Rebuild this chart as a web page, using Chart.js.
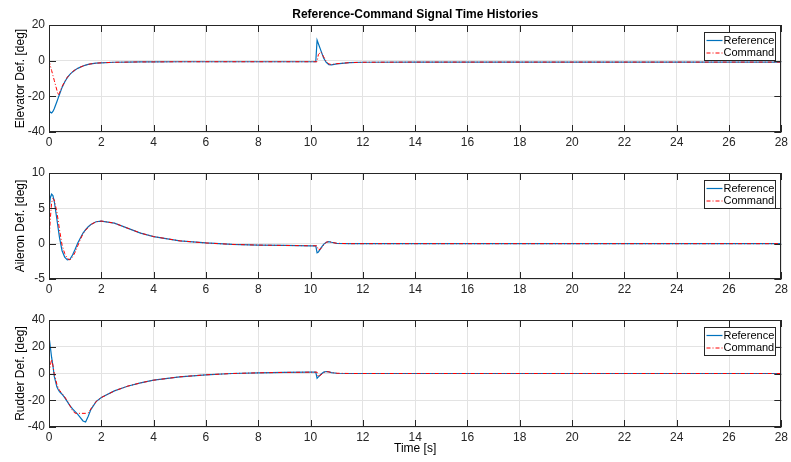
<!DOCTYPE html>
<html>
<head>
<meta charset="utf-8">
<script src="https://cdn.jsdelivr.net/npm/chart.js@4"></script>
<style>
  html, body { margin: 0; padding: 0; background: #fff; }
  .panel { position: absolute; left: 0; width: 791px; }
</style>
</head>
<body>
<div class="panel" style="top:0;height:150px"><canvas id="elevChart"></canvas></div>
<div class="panel" style="top:150px;height:147px"><canvas id="aileronChart"></canvas></div>
<div class="panel" style="top:297px;height:165px"><canvas id="rudderChart"></canvas></div>
<script>
// Tiempo [s] compartido por todas las series
const time = [0, 0.05, 0.1, 0.15, 0.2, 0.3, 0.35, 0.4, 0.5, 0.6, 0.7, 0.8, 0.9, 1.0, 1.1,
  1.2, 1.3, 1.4, 1.5, 1.6, 1.8, 2.0, 2.5, 3, 3.5, 4, 5, 6, 7, 8, 9, 10, 10.2, 10.25, 10.3,
  10.4, 10.5, 10.6, 10.7, 10.8, 11, 11.5, 12, 14, 16, 20, 24, 28];

// Elevador [deg]
const elevRef = [-27.5, -29, -29.3, -28.5, -27, -23, -21, -19, -15, -12, -9.5, -7.7, -6.3, -5.2, -4.3,
  -3.6, -3.0, -2.5, -2.1, -1.8, -1.4, -1.2, -0.9, -0.8, -0.7, -0.7, -0.6, -0.6, -0.6, -0.6, -0.6, -0.6, -0.6, 11.5, 9.5,
  5.5, 1.5, -1.0, -2.2, -2.4, -1.8, -1.1, -0.9, -0.8, -0.8, -0.8, -0.8, -0.8];
const elevCmd = [0, -2.8, -5.5, -8.3, -11, -16.5, -19.3, -18, -14.5, -11.7, -9.3, -7.6, -6.2, -5.1, -4.3,
  -3.6, -3.0, -2.5, -2.1, -1.8, -1.4, -1.2, -0.9, -0.8, -0.7, -0.7, -0.6, -0.6, -0.6, -0.6, -0.6, -0.6, -0.6, -0.6, 3.5,
  4.8, 2.2, -0.4, -1.8, -2.2, -1.7, -1.1, -0.9, -0.8, -0.8, -0.8, -0.8, -0.8];

// Alerón [deg]
const aileronRef = [4.5, 6.5, 7.0, 6.8, 6.0, 3.5, 2.2, 0.9, -1.0, -1.9, -2.3, -2.2, -1.6, -0.8, 0.1,
  0.8, 1.5, 2.0, 2.4, 2.7, 3.1, 3.2, 2.9, 2.2, 1.5, 1.0, 0.4, 0.1, -0.1, -0.2, -0.25, -0.3, -0.3, -1.3, -1.2,
  -0.6, -0.1, 0.2, 0.3, 0.2, 0.05, 0, 0, 0, 0, 0, 0, 0];
const aileronCmd = [0, 3.5, 5.8, 6.4, 6.2, 4.5, 3.3, 2.0, -0.2, -1.4, -2.1, -2.3, -1.9, -1.2, -0.3,
  0.6, 1.4, 1.9, 2.3, 2.7, 3.1, 3.2, 2.9, 2.2, 1.5, 1.0, 0.4, 0.1, -0.1, -0.2, -0.25, -0.3, -0.3, -0.3, -0.9,
  -0.7, -0.2, 0.2, 0.3, 0.2, 0.05, 0, 0, 0, 0, 0, 0, 0];

// Timón [deg]
const rudderRef = [28, 20, 12, 6, -2, -10, -12, -13.5, -15.5, -18, -21, -24, -26.5, -28.5, -30.5,
  -33, -35.5, -36.3, -32, -27, -21, -18, -13, -9.5, -7, -5, -2.5, -1, 0, 0.5, 0.8, 1, 1, -3.5, -2.5,
  -0.5, 1.0, 1.5, 1.2, 0.7, 0.2, 0, 0, 0, 0, 0, 0, 0];
const rudderCmd = [0, 6, 10.5, 6, 0, -8, -10.5, -12.5, -15, -17.5, -20.5, -24, -28, -29.7, -29.8,
  -29.8, -29.8, -29.8, -29.5, -26.5, -21, -18, -13, -9.5, -7, -5, -2.5, -1, 0, 0.5, 0.8, 1, 1, 1, -2.5,
  -1.0, 0.8, 1.4, 1.2, 0.7, 0.2, 0, 0, 0, 0, 0, 0, 0];

const seriesLabels = ["Reference", "Command"];
const FONT = "'Liberation Sans', Arial, Helvetica, sans-serif";

// Caja, marcas interiores y leyenda estilo MATLAB
const frameAndLegend = {
  id: "frameAndLegend",
  afterDatasetsDraw(chart) {
    const { ctx, chartArea: a, scales } = chart;
    const L = 7;
    ctx.save();
    ctx.strokeStyle = "#262626";
    ctx.lineWidth = 1;
    ctx.setLineDash([]);
    ctx.beginPath();
    scales.x.ticks.forEach(t => {
      const px = Math.round(scales.x.getPixelForValue(t.value)) + 0.5;
      ctx.moveTo(px, a.bottom); ctx.lineTo(px, a.bottom - L);
      ctx.moveTo(px, a.top); ctx.lineTo(px, a.top + L);
    });
    scales.y.ticks.forEach(t => {
      const py = Math.round(scales.y.getPixelForValue(t.value)) + 0.5;
      ctx.moveTo(a.left, py); ctx.lineTo(a.left + L, py);
      ctx.moveTo(a.right, py); ctx.lineTo(a.right - L, py);
    });
    ctx.stroke();
    ctx.strokeRect(Math.round(a.left) + 0.5, Math.round(a.top) + 0.5,
      Math.round(a.width) - 1, Math.round(a.height) - 1);

    // leyenda
    const w = 71, h = 28;
    const x0 = Math.round(a.right - 6 - w) + 0.5;
    const y0 = Math.round(a.top + 7) + 0.5;
    ctx.fillStyle = "#fff";
    ctx.fillRect(x0, y0, w, h);
    ctx.strokeStyle = "#262626";
    ctx.strokeRect(x0, y0, w, h);
    ctx.font = "11px " + FONT;
    ctx.textBaseline = "middle";
    chart.data.datasets.forEach((ds, i) => {
      const cy = y0 + 8 + i * 12.5;
      ctx.strokeStyle = ds.borderColor;
      ctx.lineWidth = ds.borderWidth;
      ctx.setLineDash(ds.borderDash || []);
      ctx.beginPath();
      ctx.moveTo(x0 + 2, cy); ctx.lineTo(x0 + 18, cy);
      ctx.stroke();
      ctx.fillStyle = "#000";
      ctx.fillText(ds.label, x0 + 19, cy);
    });
    ctx.restore();
  }
};

function toPoints(ys) {
  return time.map((t, i) => ({ x: t, y: ys[i] }));
}

function makeChart(id, yLabel, refData, cmdData, yMin, yMax, yStep, opts) {
  const ctx = document.getElementById(id);
  return new Chart(ctx, {
    type: "line",
    data: {
      datasets: [
        { label: seriesLabels[0], data: toPoints(refData), borderColor: "#0072BD", borderWidth: 1.2,
          pointRadius: 0, tension: 0, fill: false, order: 2 },
        { label: seriesLabels[1], data: toPoints(cmdData), borderColor: "#FF0000", borderWidth: 1,
          borderDash: [4, 2, 1, 2], pointRadius: 0, tension: 0, fill: false, order: 1 }
      ]
    },
    options: {
      responsive: true,
      maintainAspectRatio: false,
      animation: false,
      layout: { padding: { top: opts.padTop, left: 0, right: 8, bottom: 0 } },
      plugins: {
        legend: { display: false },
        tooltip: { enabled: false },
        title: {
          display: !!opts.title,
          text: opts.title || "",
          fullSize: false,
          color: "#000",
          font: { family: FONT, size: 12, weight: "bold" },
          padding: { top: 7.6, bottom: 3 }
        }
      },
      scales: {
        x: {
          type: "linear",
          min: 0, max: 28,
          ticks: { stepSize: 2, color: "#262626", font: { family: FONT, size: 12 }, padding: 3, maxRotation: 0 },
          grid: { color: "#e3e3e3", drawTicks: false },
          border: { display: false },
          title: {
            display: !!opts.xTitle,
            text: opts.xTitle || "",
            color: "#000",
            font: { family: FONT, size: 12 },
            padding: { top: 0, bottom: 6 }
          },
          afterFit: s => { s.height = opts.xHeight; }
        },
        y: {
          min: yMin, max: yMax,
          ticks: { stepSize: yStep, color: "#262626", font: { family: FONT, size: 12 }, padding: 4 },
          grid: { color: "#e3e3e3", drawTicks: false },
          border: { display: false },
          title: {
            display: true,
            text: yLabel,
            color: "#000",
            font: { family: FONT, size: 12 },
            padding: { top: 13, bottom: 0 }
          },
          afterFit: s => { s.width = 49; }
        }
      }
    },
    plugins: [frameAndLegend]
  });
}

window.addEventListener("load", () => {
  makeChart("elevChart", "Elevator Def. [deg]", elevRef, elevCmd, -40, 20, 20,
    { padTop: 0, xHeight: 18, title: "Reference-Command Signal Time Histories" });
  makeChart("aileronChart", "Aileron Def. [deg]", aileronRef, aileronCmd, -5, 10, 5,
    { padTop: 23, xHeight: 18 });
  makeChart("rudderChart", "Rudder Def. [deg]", rudderRef, rudderCmd, -40, 40, 20,
    { padTop: 23, xHeight: 35, xTitle: "Time [s]" });
});
</script>
</body>
</html>
